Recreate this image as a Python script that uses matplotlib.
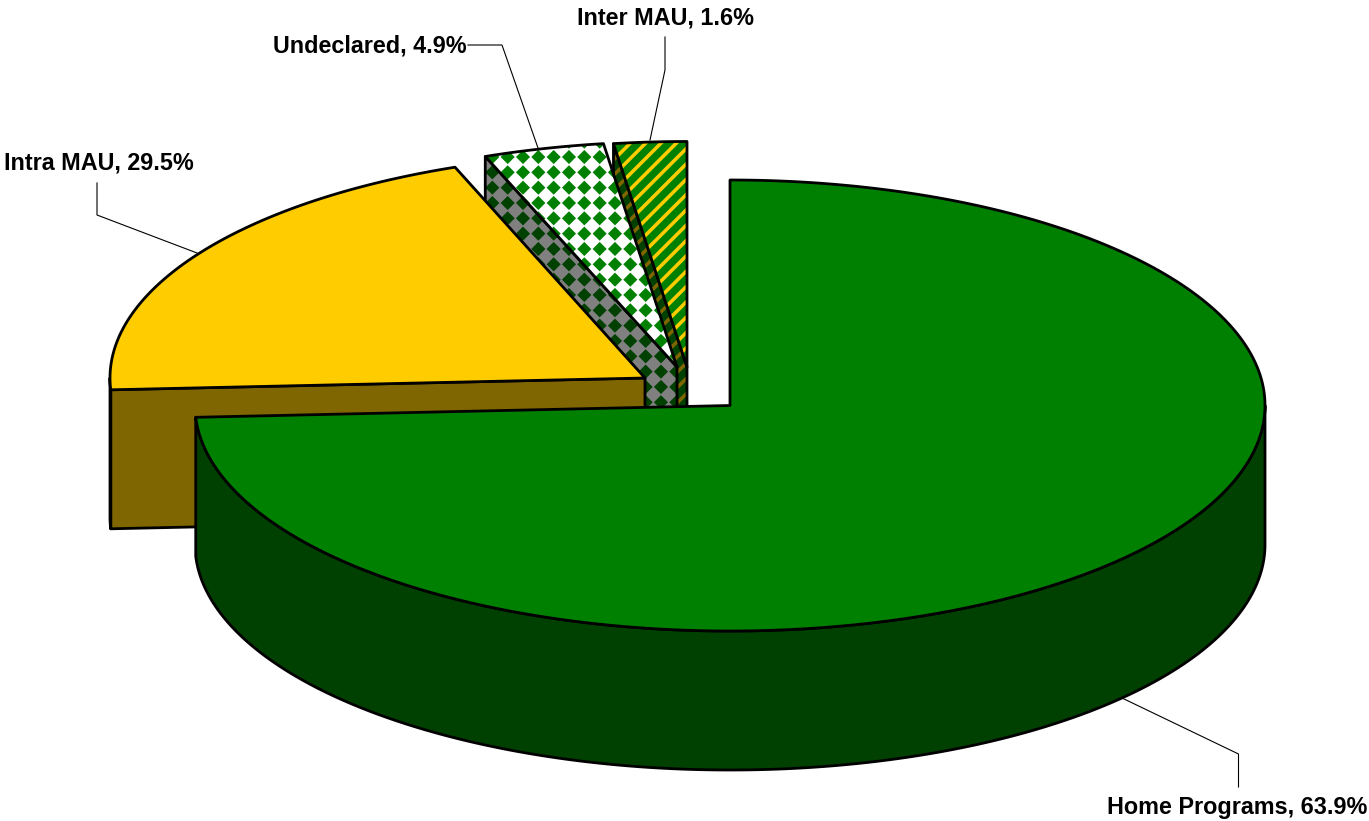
import numpy as np
import matplotlib
matplotlib.use("Agg")
import matplotlib.pyplot as plt
from matplotlib.collections import PolyCollection
from matplotlib.patches import Polygon

# back to front, the order the slices have to be painted in
slice_names = ["Inter MAU", "Undeclared", "Intra MAU", "Home Programs"]
label_shares = [1.6, 4.9, 29.5, 63.9]
# the drawn slices don't follow the labels in the original, so sweep is read separately (degrees)
drawn_sweeps = [7.9, 13.1, 72.2, 267.0]
drawn_starts = [352.1, 339.0, 267.0, 0.0]

top_colors = ["#008000", "#FFFFFF", "#FFCC00", "#008000"]
wall_colors = ["#004000", "#808080", "#806600", "#004000"]
top_marks = ["#FFCC00", "#008000", None, None]
wall_marks = ["#806600", "#004000", None, None]
patterns = ["stripes", "diamonds", None, None]

# layout, in picture pixels
W, H = 1369, 821
centers = [(687, 367), (677, 367), (645, 378), (730, 405.5)]
RX, RY, DEPTH = 535, 225.5, 139
TILE = 15.33
leaders = [
    [(665, 37), (665, 70), (650, 140)],
    [(468, 45), (502, 45), (538, 148)],
    [(97, 183), (97, 215), (197, 253)],
    [(1122, 698), (1238.5, 754), (1238.5, 787)],
]
# x, y (text baseline), horizontal alignment
label_pos = [(577, 24, "left"), (273, 52.7, "left"), (4, 169.5, "left"), (1367, 814.3, "right")]

plt.rcParams["font.family"] = ["Liberation Sans", "DejaVu Sans"]
fig = plt.figure(figsize=(W / 100, H / 100), dpi=100)
ax = fig.add_axes([0, 0, 1, 1])
ax.set_xlim(0, W)
ax.set_ylim(H, 0)
ax.axis("off")

z = [1]


def next_z():
    z[0] += 1
    return z[0]


def rim(center, a0, a1):
    t = np.radians(np.linspace(a0, a1, max(2, int(abs(a1 - a0) * 3))))
    return np.column_stack([center[0] + RX * np.sin(t), center[1] - RY * np.cos(t)])


def add_pattern(face, kind, color):
    x0, y0 = face.get_xy().min(axis=0)
    x1, y1 = face.get_xy().max(axis=0)
    shapes = []
    if kind == "diamonds":
        h = TILE * 0.46
        for i in range(int((x0 - 523) // TILE), int((x1 - 523) // TILE) + 2):
            for j in range(int((y0 - 157) // TILE), int((y1 - 157) // TILE) + 2):
                cx, cy = 523 + i * TILE, 157 + j * TILE
                shapes.append([(cx - h, cy), (cx, cy - h), (cx + h, cy), (cx, cy + h)])
    else:
        w = 5.0
        lo = int((x0 + y0 - 773.5) // TILE)
        hi = int((x1 + y1 - 773.5) // TILE) + 1
        for k in range(lo, hi + 1):
            c = 773.5 + k * TILE
            shapes.append([(x0 - 5, c - x0 + 5 - w / 2), (x0 - 5, c - x0 + 5 + w / 2),
                           (x1 + 5, c - x1 - 5 + w / 2), (x1 + 5, c - x1 - 5 - w / 2)])
    coll = PolyCollection(shapes, facecolors=color, edgecolors="none", zorder=next_z())
    ax.add_collection(coll)
    coll.set_clip_path(face)


def add_face(pts, fill, kind=None, mark=None):
    face = Polygon(pts, closed=True, facecolor=fill, edgecolor="none", zorder=next_z())
    ax.add_patch(face)
    if kind:
        add_pattern(face, kind, mark)
    ax.add_patch(Polygon(pts, closed=True, facecolor="none", edgecolor="black", lw=2.0,
                         joinstyle="round", zorder=next_z()))


for i in range(len(slice_names)):
    c = centers[i]
    a0 = drawn_starts[i]
    a1 = a0 + drawn_sweeps[i]
    edge = rim(c, a0, a0 + 0.001)[0]

    # cut wall on the leading edge of the slice
    if a0 > 0:
        add_face([edge, c, (c[0], c[1] + DEPTH), (edge[0], edge[1] + DEPTH)],
                 wall_colors[i], patterns[i], wall_marks[i])

    # outer wall, only the part that faces the viewer
    v0, v1 = max(a0, 90), min(a1, 270)
    if v1 > v0:
        arc = rim(c, v0, v1)
        add_face(np.vstack([arc, (arc + [0, DEPTH])[::-1]]), wall_colors[i], patterns[i], wall_marks[i])

    add_face(np.vstack([rim(c, a0, a1), [c]]), top_colors[i], patterns[i], top_marks[i])

for i, name in enumerate(slice_names):
    xs, ys = zip(*leaders[i])
    ax.plot(xs, ys, color="black", lw=0.8, solid_joinstyle="miter", zorder=next_z())
    x, y, ha = label_pos[i]
    ax.text(x, y, f"{name}, {label_shares[i]}%", fontsize=16.85, fontweight="bold",
            ha=ha, va="baseline", color="black", zorder=next_z())

fig.savefig("out.png", dpi=100, facecolor="white")
